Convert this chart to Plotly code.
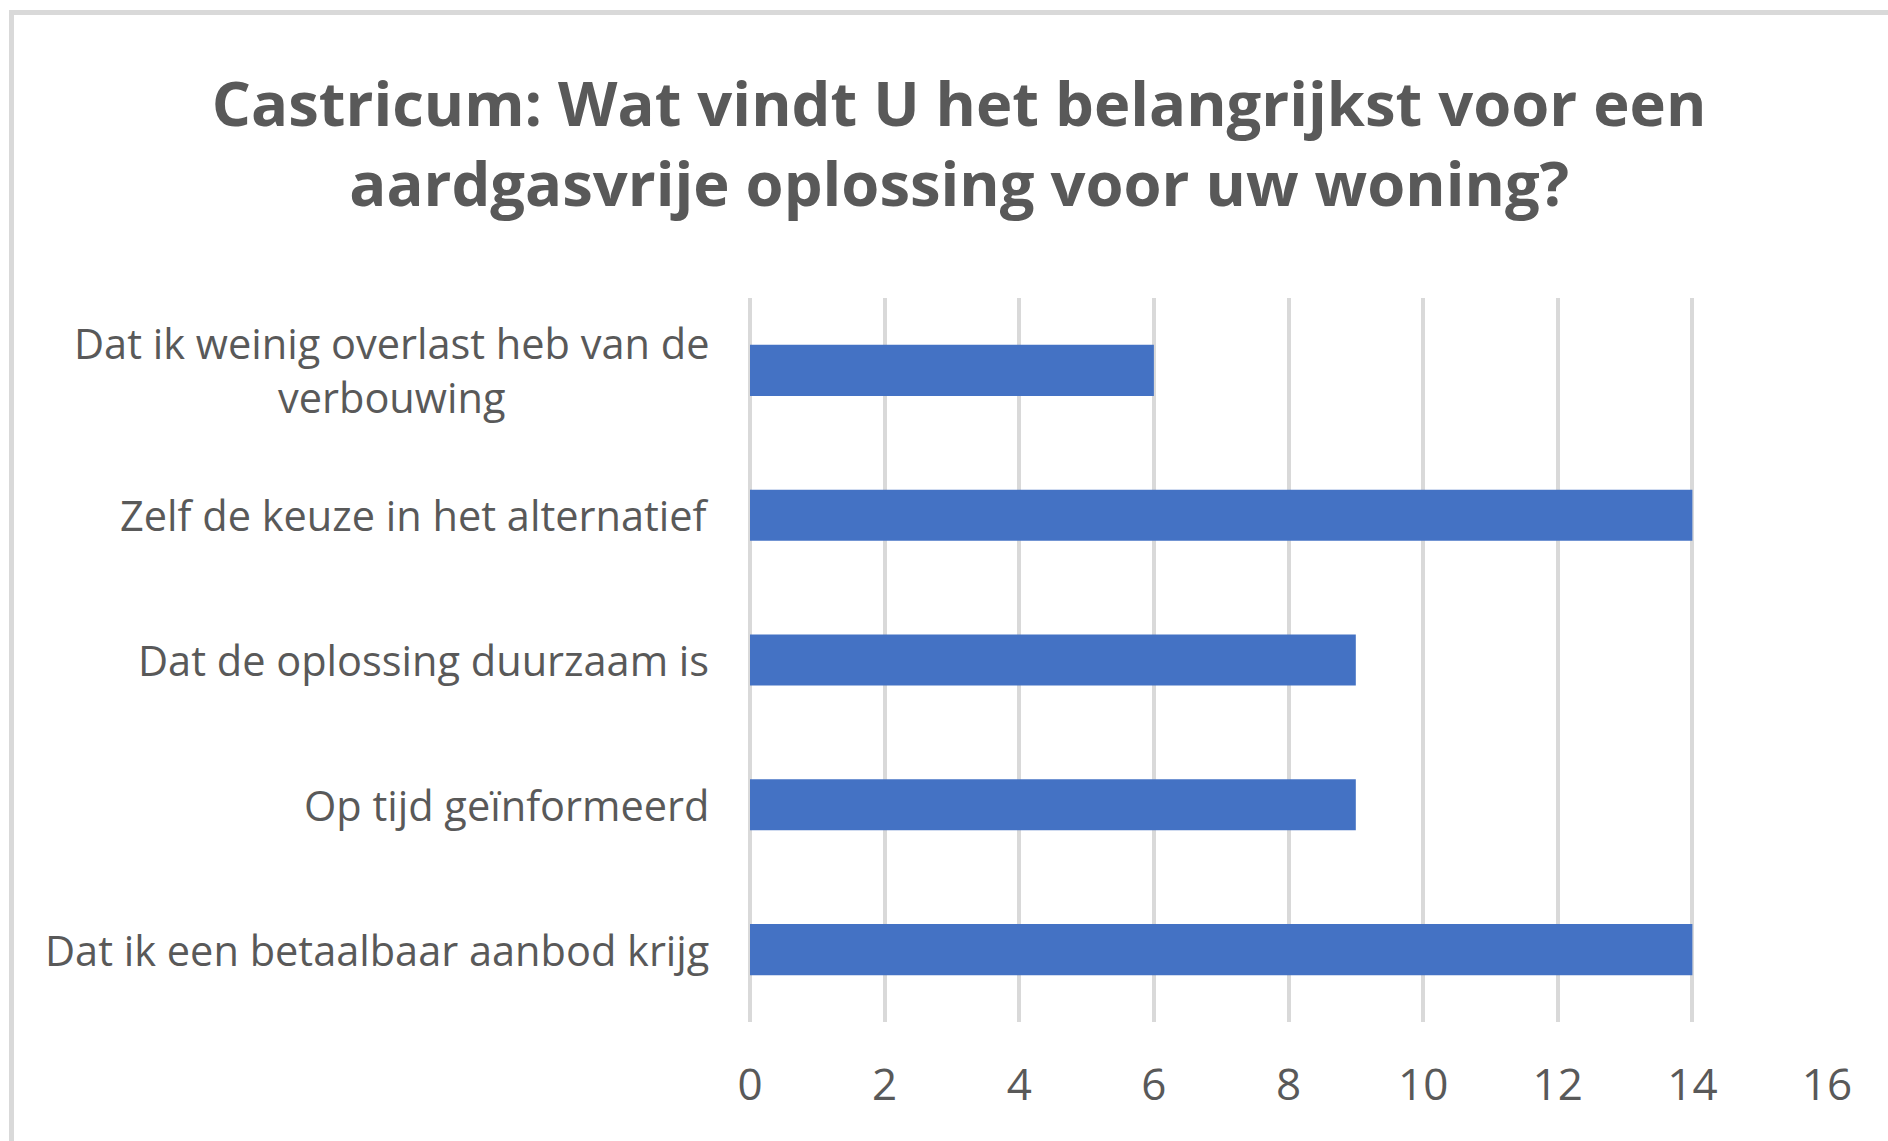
import plotly.graph_objects as go

categories = [
    "Dat ik weinig overlast heb van de<br>verbouwing",
    "Zelf de keuze in het alternatief",
    "Dat de oplossing duurzaam is",
    "Op tijd geïnformeerd",
    "Dat ik een betaalbaar aanbod krijg",
]
values = [6, 14, 9, 9, 14]
x_ticks = [0, 2, 4, 6, 8, 10, 12, 14, 16]
title_text = "Castricum: Wat vindt U het belangrijkst voor een<br>aardgasvrije oplossing voor uw woning?"

FONT = "Open Sans, sans-serif"
TEXT = "#595959"
GRID = "#d9d9d9"
BAR = "#4472C4"

W, H = 1888, 1141
L, R, T, B = 750, 61, 298, 119
pw, ph = W - L - R, H - T - B

fig = go.Figure(go.Bar(
    x=values, y=categories, orientation="h",
    marker=dict(color=BAR, line=dict(width=0)),
    hoverinfo="x+y",
))

for c in categories:
    fig.add_annotation(
        x=0, xref="paper", y=c, yref="y", xanchor="right", yanchor="middle",
        xshift=-39, text=c, showarrow=False, align="center",
        font=dict(family=FONT, size=41.5, color=TEXT),
    )

def px2x(p):
    return (p - L) / pw

def py2y(p):
    return (H - B - p) / ph

# chart frame (top and left edges visible)
fig.add_shape(type="line", xref="paper", yref="paper",
              x0=px2x(9), x1=px2x(W + 5), y0=py2y(12.5), y1=py2y(12.5),
              line=dict(color=GRID, width=5))
fig.add_shape(type="line", xref="paper", yref="paper",
              x0=px2x(11.5), x1=px2x(11.5), y0=py2y(10), y1=py2y(H + 5),
              line=dict(color=GRID, width=5))

fig.update_layout(
    width=W, height=H,
    margin=dict(l=L, r=R, t=T, b=B, autoexpand=False),
    paper_bgcolor="white", plot_bgcolor="white",
    bargap=0.647,
    showlegend=False,
    title=dict(
        text=title_text, x=0.508, xanchor="center", xref="container",
        y=1 - 126 / H, yanchor="middle", yref="container",
        font=dict(family=FONT, size=61.5, color=TEXT, weight="bold"),
    ),
    xaxis=dict(
        range=[0, 16], tickvals=x_ticks, showgrid=True, gridcolor=GRID, gridwidth=4,
        zeroline=True, zerolinecolor=GRID, zerolinewidth=4, showline=False,
        ticks="", ticklabelstandoff=33,
        tickfont=dict(family=FONT, size=44, color=TEXT),
    ),
    yaxis=dict(
        range=[4.5, -0.5], showticklabels=False, showgrid=False, zeroline=False,
        showline=False, ticks="",
    ),
)

fig.write_html("out.html",
               config={"displayModeBar": False},
               post_script="document.body.style.margin='0';document.body.style.overflow='hidden';")
